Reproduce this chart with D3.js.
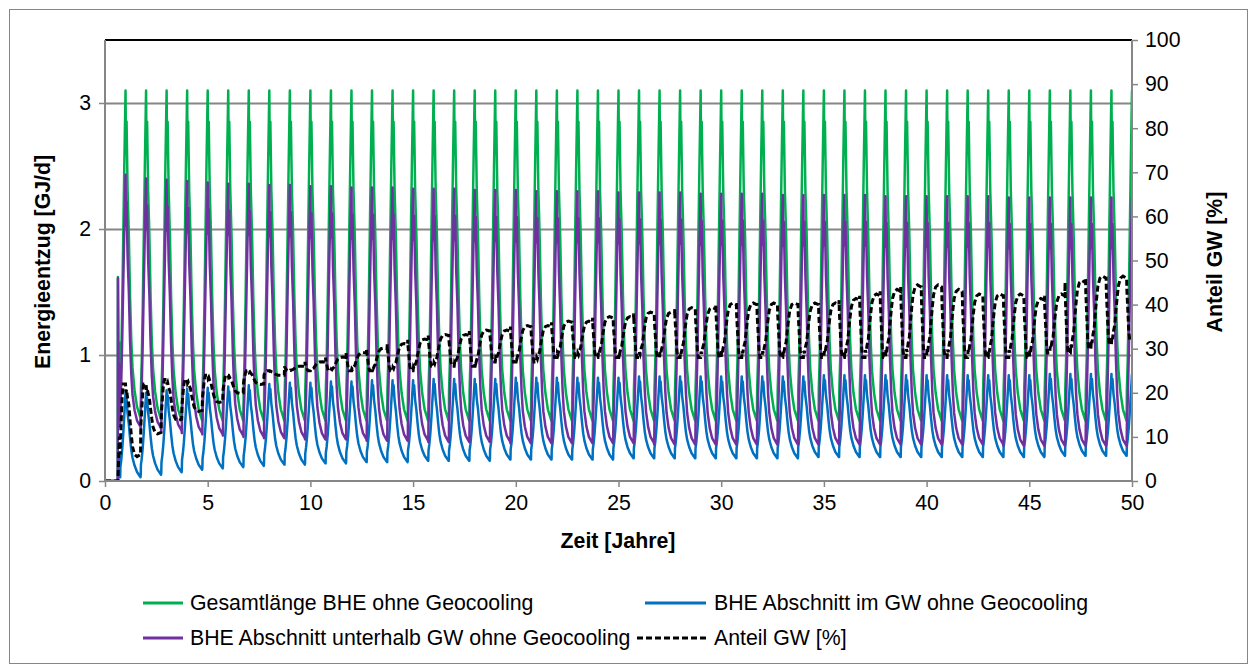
<!DOCTYPE html>
<html><head><meta charset="utf-8">
<script src="https://cdn.jsdelivr.net/npm/d3@7"></script>
<style>body{margin:0;background:#fff}text{font-family:"Liberation Sans",Arial,sans-serif;fill:#000}</style>
</head><body><svg id="c" width="1257" height="668"></svg>
<script>
// ---------- data ----------
const xTicks = [0,5,10,15,20,25,30,35,40,45,50];
const yLeftTicks = [0,1,2,3];
const yRightTicks = [0,10,20,30,40,50,60,70,80,90,100];
const seriesNames = ["Gesamtlänge BHE ohne Geocooling","BHE Abschnitt im GW ohne Geocooling","BHE Abschnitt unterhalb GW ohne Geocooling","Anteil GW [%]"];
// heating-cycle peaks (years)
const cycleYears = [1,2,3,4,5,6,7,8,9,10,11,12,13,14,15,16,17,18,19,20,21,22,23,24,25,26,27,28,29,30,31,32,33,34,35,36,37,38,39,40,41,42,43,44,45,46,47,48,49,50];
// time offsets inside one cycle (years, relative to the winter peak)
const phase = [-0.26,-0.25,-0.21,-0.16,-0.11,-0.06,-0.02,0,0.02,0.05,0.10,0.16,0.22,0.28,0.34,0.44,0.56,0.73];
// relative cycle profiles read from a typical cycle (0 = cycle minimum, 1 = cycle maximum)
const gesamtShape = [0,0.092,0.179,0.351,0.561,0.771,0.924,1,0.809,0.905,0.695,0.561,0.370,0.237,0.153,0.084,0.034,0];
const gwShape     = [0,0.123,0.200,0.338,0.523,0.738,0.908,1,0.846,0.938,0.754,0.631,0.462,0.323,0.231,0.138,0.062,0];
const untenShape  = [0,0.081,0.173,0.355,0.574,0.782,0.929,1,0.797,0.893,0.675,0.538,0.340,0.208,0.127,0.066,0.025,0];
const anteilShape = [1,0.81,0.52,0.15,0,0,0,0,0.12,0.08,0.20,0.29,0.52,0.72,0.89,1,1.03,1]; // 0 = winter, 1 = summer
// per-cycle extremes [GJ/d]
const gesamtPeak = [3.10,3.10,3.10,3.10,3.10,3.10,3.10,3.10,3.10,3.10,3.10,3.10,3.10,3.10,3.10,3.10,3.10,3.10,3.10,3.10,3.10,3.10,3.10,3.10,3.10,3.10,3.10,3.10,3.10,3.10,3.10,3.10,3.10,3.10,3.10,3.10,3.10,3.10,3.10,3.10,3.10,3.10,3.10,3.10,3.10,3.10,3.10,3.10,3.10,3.10];
const gesamtLow  = [0.50,0.49,0.48,0.48,0.48,0.48,0.48,0.48,0.48,0.48,0.48,0.48,0.48,0.48,0.48,0.48,0.48,0.48,0.48,0.48,0.48,0.48,0.48,0.48,0.48,0.48,0.48,0.48,0.48,0.48,0.48,0.48,0.48,0.48,0.48,0.48,0.48,0.48,0.48,0.48,0.48,0.48,0.48,0.48,0.48,0.48,0.48,0.48,0.48,0.48];
const gwPeak     = [0.70,0.70,0.72,0.73,0.74,0.75,0.76,0.77,0.78,0.78,0.79,0.79,0.80,0.80,0.80,0.81,0.81,0.81,0.81,0.82,0.82,0.82,0.82,0.82,0.82,0.83,0.83,0.83,0.83,0.83,0.83,0.83,0.83,0.83,0.84,0.84,0.84,0.84,0.84,0.84,0.84,0.84,0.84,0.84,0.84,0.85,0.85,0.85,0.85,0.85];
const gwLow      = [0.03,0.05,0.07,0.09,0.10,0.11,0.12,0.13,0.13,0.14,0.14,0.15,0.15,0.15,0.16,0.16,0.16,0.16,0.17,0.17,0.17,0.17,0.17,0.17,0.18,0.18,0.18,0.18,0.18,0.18,0.18,0.18,0.18,0.19,0.19,0.19,0.19,0.19,0.19,0.19,0.19,0.19,0.19,0.19,0.19,0.20,0.20,0.20,0.20,0.20];
const untenPeak  = [2.43,2.40,2.39,2.38,2.37,2.36,2.36,2.35,2.35,2.34,2.34,2.33,2.33,2.33,2.32,2.32,2.32,2.31,2.31,2.31,2.30,2.30,2.30,2.30,2.29,2.29,2.29,2.29,2.28,2.28,2.28,2.28,2.27,2.27,2.27,2.27,2.27,2.26,2.26,2.26,2.26,2.26,2.26,2.25,2.25,2.25,2.25,2.25,2.25,2.25];
const untenLow   = [0.43,0.42,0.40,0.38,0.37,0.36,0.35,0.34,0.34,0.33,0.33,0.33,0.32,0.32,0.32,0.31,0.31,0.31,0.31,0.30,0.30,0.30,0.30,0.30,0.30,0.30,0.29,0.29,0.29,0.29,0.29,0.29,0.29,0.29,0.29,0.29,0.29,0.29,0.29,0.29,0.29,0.29,0.29,0.28,0.28,0.28,0.28,0.28,0.28,0.28];
// Anteil GW [%] during the heating peak (winter) and in summer
const anteilWinter = [22,22,23,23,24,24,25,25,25,25,25,25,25,25,25,26,26,26,27,27,27,28,28,28,28,28,28,28,28,28,28,28,28,28,28,28,28,28,28,28,28,28,28,28,28,29,29,30,31,32];
const anteilSummer = [6,11,14,16,18,20,22,24,26,27,28,29,30,31,32,33,33,34,34,35,35,36,36,37,37,38,38,39,39,40,40,40,40,40,40,41,42,43,44,44,43,42,42,42,41,42,45,46,46,46];
// start-up of the simulation
const startT      = [0.00,0.62,0.63,0.65,0.70];
const startGesamt = [0,0,1.62,1.00,1.10];
const startGw     = [0,0,0.00,0.05,0.20];
const startUnten  = [0,0,1.61,0.95,0.90];
const startAnteil = [0,0,0,3,10];

// ---------- layout ----------
const svg = d3.select("#c");
const W = 1257, H = 668;
const L = 105, R = 1132, T = 40, B = 481;
const FS = 21.3;
const x = d3.scaleLinear().domain([0,50]).range([L,R]);
const yL = d3.scaleLinear().domain([0,3.5]).range([B,T]);
const yR = d3.scaleLinear().domain([0,100]).range([B,T]);
const gray = "#868686";

svg.append("rect").attr("x",0).attr("y",0).attr("width",W).attr("height",H).attr("fill","#fff");
svg.append("rect").attr("x",9.5).attr("y",9.5).attr("width",1238).attr("height",654).attr("fill","none").attr("stroke",gray).attr("stroke-width",1);

// gridlines
svg.append("g").selectAll("line").data(yLeftTicks.filter(d=>d>0)).join("line")
  .attr("x1",L).attr("x2",R).attr("y1",d=>Math.round(yL(d))+0.5).attr("y2",d=>Math.round(yL(d))+0.5)
  .attr("stroke",gray).attr("stroke-width",2);
svg.append("line").attr("x1",L).attr("x2",R).attr("y1",T).attr("y2",T).attr("stroke","#000").attr("stroke-width",2);

// series
function build(lowArr, peakArr, shape, startV){
  const pts = startT.map((t,i)=>[t,startV[i]]);
  const t0 = startT[startT.length-1];
  cycleYears.forEach((c,k)=>{
    phase.forEach((p,i)=>{
      const t = c + p;
      if (t > t0 && t <= 50) pts.push([t, lowArr[k] + (peakArr[k]-lowArr[k])*shape[i]]);
    });
  });
  return pts;
}
const gesamt = build(gesamtLow, gesamtPeak, gesamtShape, startGesamt);
const gw = build(gwLow, gwPeak, gwShape, startGw);
const unten = build(untenLow, untenPeak, untenShape, startUnten);
const anteil = build(anteilWinter, anteilSummer, anteilShape, startAnteil);

svg.append("clipPath").attr("id","clip").append("rect").attr("x",L).attr("y",T-2).attr("width",R-L+1).attr("height",B-T+3);
const g = svg.append("g").attr("clip-path","url(#clip)");
const lineL = d3.line().x(d=>x(d[0])).y(d=>yL(d[1]));
const lineR = d3.line().x(d=>x(d[0])).y(d=>yR(d[1]));
const colors = ["#00B050","#0070C0","#7030A0","#000"];
g.append("path").datum(gesamt).attr("d",lineL).attr("fill","none").attr("stroke",colors[0]).attr("stroke-width",2.5).attr("stroke-linejoin","round");
g.append("path").datum(gw).attr("d",lineL).attr("fill","none").attr("stroke",colors[1]).attr("stroke-width",2.5).attr("stroke-linejoin","round");
g.append("path").datum(unten).attr("d",lineL).attr("fill","none").attr("stroke",colors[2]).attr("stroke-width",2.5).attr("stroke-linejoin","round");
g.append("path").datum(anteil).attr("d",lineR).attr("fill","none").attr("stroke",colors[3]).attr("stroke-width",3).attr("stroke-dasharray","6,3");

// axes
const axL = svg.append("g").attr("transform",`translate(${L},0)`).call(d3.axisLeft(yL).tickValues(yLeftTicks).tickSize(6).tickPadding(8).tickFormat(d3.format("d")));
const axB = svg.append("g").attr("transform",`translate(0,${B})`).call(d3.axisBottom(x).tickValues(xTicks).tickSize(6).tickPadding(8).tickFormat(d3.format("d")));
const axR = svg.append("g").attr("transform",`translate(${R},0)`).call(d3.axisRight(yR).tickValues(yRightTicks).tickSize(6).tickPadding(7).tickFormat(d3.format("d")));
[axL,axB,axR].forEach(a=>{
  a.select(".domain").attr("stroke",gray).attr("stroke-width",2);
  a.selectAll(".tick line").attr("stroke",gray).attr("stroke-width",1.5);
  a.selectAll("text").attr("font-size",FS).attr("font-family","Liberation Sans, Arial, sans-serif").attr("fill","#000");
});
axL.select(".domain").attr("d",`M0,${T}V${B}`);
axB.select(".domain").attr("d",`M${L},0H${R}`);
axR.select(".domain").attr("d",`M0,${T}V${B}`);

// titles
svg.append("text").attr("transform",`translate(50,262) rotate(-90)`).attr("text-anchor","middle").attr("font-size",FS).attr("font-weight","bold").text("Energieentzug [GJ/d]");
svg.append("text").attr("x",618).attr("y",548).attr("text-anchor","middle").attr("font-size",FS).attr("font-weight","bold").text("Zeit [Jahre]");
svg.append("text").attr("transform",`translate(1222,262) rotate(-90)`).attr("text-anchor","middle").attr("font-size",FS).attr("font-weight","bold").text("Anteil GW [%]");

// legend
const legend = [
  {name:seriesNames[0], c:colors[0], x1:143, x2:183, tx:190, y:603, dash:null},
  {name:seriesNames[1], c:colors[1], x1:645, x2:706, tx:714, y:603, dash:null},
  {name:seriesNames[2], c:colors[2], x1:143, x2:183, tx:190, y:638, dash:null},
  {name:seriesNames[3], c:colors[3], x1:637, x2:706, tx:714, y:638, dash:"6,3"}
];
const lg = svg.append("g").selectAll("g").data(legend).join("g");
lg.append("line").attr("x1",d=>d.x1).attr("x2",d=>d.x2).attr("y1",d=>d.y).attr("y2",d=>d.y).attr("stroke",d=>d.c).attr("stroke-width",3).attr("stroke-dasharray",d=>d.dash);
lg.append("text").attr("x",d=>d.tx).attr("y",d=>d.y+7).attr("font-size",FS).text(d=>d.name);
</script></body></html>
